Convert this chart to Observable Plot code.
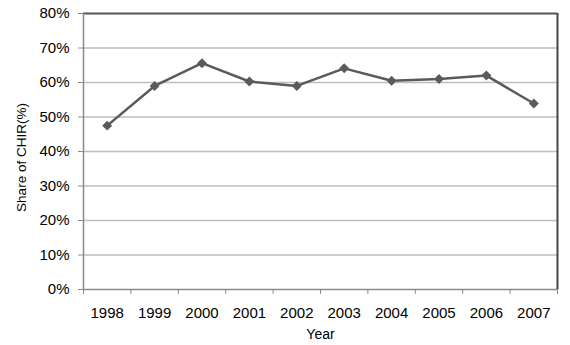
<!DOCTYPE html>
<html>
<head>
<meta charset="utf-8">
<script src="https://cdn.jsdelivr.net/npm/d3@7"></script>
<script src="https://cdn.jsdelivr.net/npm/@observablehq/plot@0.6"></script>
<style>
  html, body { margin: 0; padding: 0; background: #fff; }
  #chart { width: 570px; height: 345px; }
  svg { font-family: "Liberation Sans", Arial, sans-serif; }
</style>
</head>
<body>
<div id="chart"></div>
<script>
const years = [1998, 1999, 2000, 2001, 2002, 2003, 2004, 2005, 2006, 2007];
const shares = [0.475, 0.59, 0.656, 0.603, 0.59, 0.641, 0.605, 0.61, 0.62, 0.539];
const yTicks = [0, 0.1, 0.2, 0.3, 0.4, 0.5, 0.6, 0.7, 0.8];
const xLabel = "Year";
const yLabel = "Share of CHIR(%)";

const data = years.map((y, i) => ({year: y, share: shares[i]}));
const bounds = d3.range(years.length + 1).map(i => years[0] - 0.5 + i);
const gridTicks = yTicks.slice(1, -1);

const chart = Plot.plot({
  width: 570,
  height: 345,
  marginLeft: 83,
  marginRight: 13,
  marginTop: 13,
  marginBottom: 56,
  style: {fontSize: "15px", fontFamily: "Liberation Sans, Arial, sans-serif", color: "#000", background: "#fff"},
  x: {domain: [years[0] - 0.5, years[years.length - 1] + 0.5]},
  y: {domain: [0, 0.8]},
  marks: [
    Plot.ruleY(gridTicks, {stroke: "#bdbdbd", strokeWidth: 1.5}),
    Plot.ruleY([yTicks[yTicks.length - 1]], {stroke: "#555", strokeWidth: 2}),
    Plot.ruleX([bounds[bounds.length - 1]], {stroke: "#444", strokeWidth: 2}),
    Plot.ruleY([0], {stroke: "#8a8a8a", strokeWidth: 1.5}),
    Plot.ruleX([bounds[0]], {stroke: "#8a8a8a", strokeWidth: 1.5}),
    Plot.axisY({ticks: yTicks, tickFormat: d3.format(".0%"), tickSize: 5, tickPadding: 9, stroke: "#8a8a8a", fill: "#000", label: null}),
    Plot.text([yLabel], {frameAnchor: "left", dx: -62, dy: 6, rotate: -90, fontSize: 13.5, fill: "#000", text: d => d, textAnchor: "middle"}),
    Plot.axisX({ticks: bounds, tickFormat: () => "", tickSize: 5, stroke: "#8a8a8a", label: null}),
    Plot.axisX({ticks: years, tickFormat: d => String(d), tickSize: 0, tickPadding: 18, fill: "#000", label: null}),
    Plot.text([xLabel], {frameAnchor: "bottom", dy: 49, fontSize: 14, fill: "#000", text: d => d}),
    Plot.line(data, {x: "year", y: "share", stroke: "#5a5a5a", strokeWidth: 2.5}),
    Plot.dot(data, {x: "year", y: "share", symbol: "diamond2", r: 4.5, fill: "#5a5a5a", stroke: "none"})
  ]
});
document.getElementById("chart").appendChild(chart);
</script>
</body>
</html>
